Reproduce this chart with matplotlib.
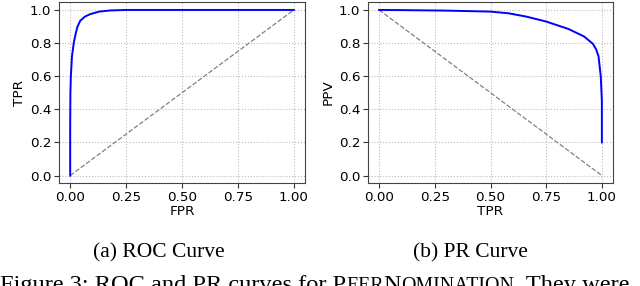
import numpy as np
import matplotlib.pyplot as plt

# ROC curve points
fpr = [0.0, 0.0, 0.001, 0.003, 0.008, 0.016, 0.025, 0.033, 0.045, 0.066, 0.09, 0.13, 0.18, 0.25, 0.5, 1.0]
tpr = [0.0, 0.3, 0.5, 0.6, 0.72, 0.8, 0.86, 0.9, 0.935, 0.96, 0.975, 0.99, 0.997, 1.0, 1.0, 1.0]

# PR curve points
rec = [0.0, 0.1, 0.3, 0.5, 0.58, 0.66, 0.75, 0.85, 0.92, 0.96, 0.975, 0.985, 0.995, 1.0, 1.0]
prec = [1.0, 0.999, 0.996, 0.99, 0.98, 0.96, 0.93, 0.885, 0.84, 0.795, 0.76, 0.72, 0.6, 0.45, 0.2]

plt.rcParams['font.family'] = 'DejaVu Sans'

fig = plt.figure(figsize=(6.4, 2.86), dpi=100)
ax1 = fig.add_axes([59 / 640, 1 - 183 / 286, 246 / 640, 181 / 286])
ax2 = fig.add_axes([368 / 640, 1 - 183 / 286, 245 / 640, 181 / 286])

def style(ax, xlab, ylab):
    ax.set_xlim(-0.05, 1.05)
    ax.set_ylim(-0.045, 1.048)
    ax.set_xticks([0, 0.25, 0.5, 0.75, 1.0])
    ax.set_yticks([0, 0.2, 0.4, 0.6, 0.8, 1.0])
    ax.tick_params(labelsize=9.7, length=3.5, pad=2, color='#333333')
    ax.set_xlabel(xlab, fontsize=9.7, labelpad=1)
    ax.set_ylabel(ylab, fontsize=9.7, labelpad=3)
    ax.grid(True, linestyle=':', color='#bbbbbb', linewidth=0.8)
    for s in ax.spines.values():
        s.set_color('#444444')

ax1.plot([0, 1], [0, 1], '--', color='gray', linewidth=0.9)
ax1.plot(fpr, tpr, color='blue', linewidth=1.4)
style(ax1, 'FPR', 'TPR')

ax2.plot([0, 1], [1, 0], '--', color='gray', linewidth=0.9)
ax2.plot(rec, prec, color='blue', linewidth=1.4)
style(ax2, 'TPR', 'PPV')

fig.text(158.5 / 640, 1 - 257 / 286, '(a) ROC Curve', family='Liberation Serif',
         fontsize=15.5, ha='center', va='baseline')
fig.text(470 / 640, 1 - 257 / 286, '(b) PR Curve', family='Liberation Serif',
         fontsize=15.5, ha='center', va='baseline')

# caption line, cut at the bottom edge, with small caps name
fig.canvas.draw()
r = fig.canvas.get_renderer()
parts = [('Figure 3: ROC and PR curves for P', 17.6), ('EER', 14.3), ('N', 17.6),
         ('OMINATION', 14.3), ('. They were', 17.6)]
x = 0
ybase = -5
for s, fs in parts:
    t = fig.text(x / 640, ybase / 286, s, family='Liberation Serif', fontsize=fs,
                 ha='left', va='baseline')
    x = t.get_window_extent(r).x1

fig.savefig('out.png', dpi=100)
